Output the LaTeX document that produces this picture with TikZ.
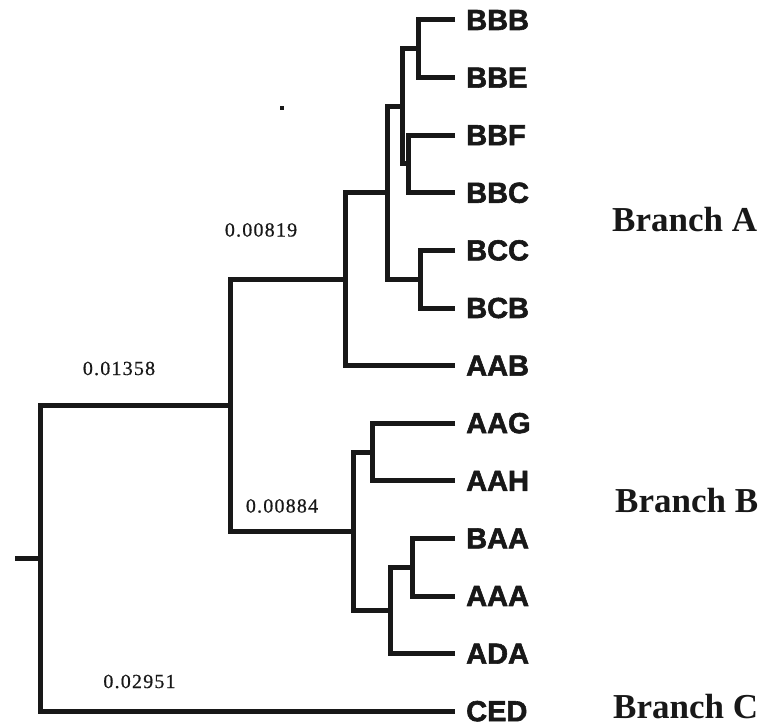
\documentclass[tikz,border=0pt]{standalone}
\usepackage{fontspec}
\setmainfont{Liberation Serif}
\newfontfamily\leaffont{Liberation Sans Bold}[FakeBold=2]
\newfontfamily\numfont{Liberation Serif}[LetterSpace=6,FakeBold=0.6]
\definecolor{ink}{RGB}{24,24,24}
\begin{document}
\begin{tikzpicture}[x=1pt,y=-1pt,
  branch/.style={draw=ink,line width=5pt,line join=miter},
  leaf/.style={anchor=west,inner xsep=11pt,inner ysep=0pt,text=ink,font=\leaffont\fontsize{29}{29}\selectfont},
  dist/.style={inner sep=0pt,text=ink,font=\numfont\fontsize{20}{20}\selectfont},
  group/.style={anchor=base west,inner sep=0pt,text=ink,font=\bfseries\fontsize{35}{36}\selectfont}]
\useasboundingbox (0,0) rectangle (768,727);
% leaves
\node[leaf] (BBB) at (455,20.0) {BBB};
\node[leaf] (BBE) at (455,77.6) {BBE};
\node[leaf] (BBF) at (455,135.2) {BBF};
\node[leaf] (BBC) at (455,192.8) {BBC};
\node[leaf] (BCC) at (455,250.4) {BCC};
\node[leaf] (BCB) at (455,308.0) {BCB};
\node[leaf] (AAB) at (455,365.6) {AAB};
\node[leaf] (AAG) at (455,423.2) {AAG};
\node[leaf] (AAH) at (455,480.8) {AAH};
\node[leaf] (BAA) at (455,538.4) {BAA};
\node[leaf] (AAA) at (455,596.0) {AAA};
\node[leaf] (ADA) at (455,653.6) {ADA};
\node[leaf] (CED) at (455,711.2) {CED};
% internal nodes
\coordinate (n1) at (418,48.8);
\coordinate (n2) at (408,164.0);
\coordinate (n3) at (402,106.4);
\coordinate (n4) at (420,279.2);
\coordinate (n5) at (387,192.8);
\coordinate (n6) at (345,279.2);
\coordinate (n7) at (372,452.0);
\coordinate (n8) at (412,567.2);
\coordinate (n9) at (390,610.4);
\coordinate (n10) at (353,531.2);
\coordinate (n11) at (230,405.2);
\coordinate (root) at (40,558.2);
\coordinate (stub) at (15,558.2);
% branches
\draw[branch] (BBB.west) -| (n1) |- (BBE.west);
\draw[branch] (BBF.west) -| (n2) |- (BBC.west);
\draw[branch] (n1) -| (n3) |- (n2);
\draw[branch] (BCC.west) -| (n4) |- (BCB.west);
\draw[branch] (n3) -| (n5) |- (n4);
\draw[branch] (n5) -| (n6) |- (AAB.west);
\draw[branch] (AAG.west) -| (n7) |- (AAH.west);
\draw[branch] (BAA.west) -| (n8) |- (AAA.west);
\draw[branch] (n8) -| (n9) |- (ADA.west);
\draw[branch] (n7) -| (n10) |- (n9);
\draw[branch] (n6) -| (n11) |- (n10);
\draw[branch] (n11) -| (root) |- (CED.west);
\draw[branch] (stub) -- (root);
% distances
\node[dist] (d1) at (261,230) {0.00819};
\node[dist] (d2) at (119,368.5) {0.01358};
\node[dist] (d3) at (282,506) {0.00884};
\node[dist] (d4) at (139.5,681.5) {0.02951};
% group labels
\node[group] (gA) at (612,232) {Branch A};
\node[group] (gB) at (615,512) {Branch B};
\node[group] (gC) at (613,718) {Branch C};
% speck
\fill[ink] (280,106) rectangle (284,110);
\end{tikzpicture}
\end{document}
